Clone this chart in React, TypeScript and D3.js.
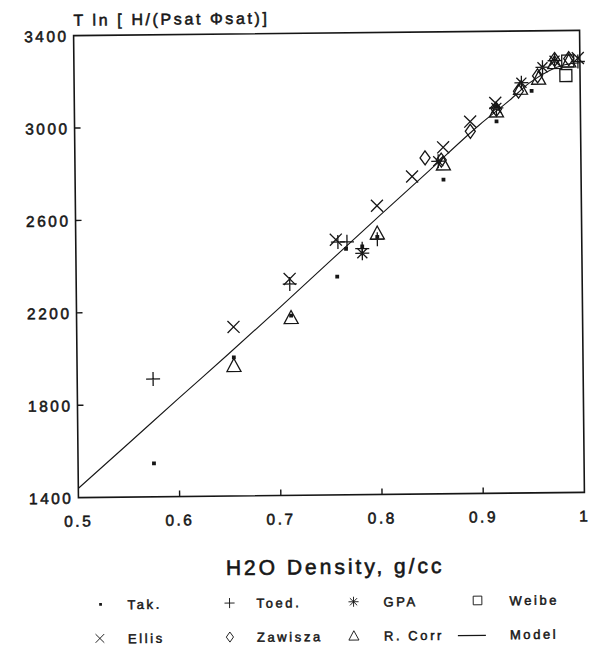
import React from 'react';
import * as d3 from 'd3';

const W = 604;
const H = 655;

// axis ticks
const xTicks = [0.5, 0.6, 0.7, 0.8, 0.9, 1.0];
const xTickLabels = ['0.5', '0.6', '0.7', '0.8', '0.9', '1'];
const yTicks = [1400, 1800, 2200, 2600, 3000, 3400];
const yTickLabels = ['1400', '1800', '2200', '2600', '3000', '3400'];

// series (density g/cc, T ln[H/(Psat Phisat)])
const tak: [number, number][] = [
  [0.575, 1545], [0.655, 2000], [0.712, 2178], [0.758, 2345], [0.767, 2465],
  [0.783, 2475], [0.798, 2515], [0.864, 2760], [0.917, 3010], [0.952, 3140],
];
const toed: [number, number][] = [
  [0.575, 1910], [0.711, 2315], [0.759, 2495], [0.768, 2495], [0.783, 2465],
  [0.798, 2505], [0.998, 3265],
];
const ellis: [number, number][] = [
  [0.655, 2132], [0.711, 2337], [0.757, 2505], [0.798, 2650], [0.833, 2775],
  [0.864, 2900], [0.891, 3010], [0.916, 3090], [0.998, 3280],
];
const gpa: [number, number][] = [
  [0.783, 2445], [0.859, 2840], [0.917, 3068], [0.942, 3176], [0.963, 3242], [0.975, 3270],
];
const zawisza: [number, number][] = [
  [0.846, 2855], [0.862, 2845], [0.891, 2968], [0.917, 3062], [0.939, 3140],
  [0.958, 3205], [0.975, 3275], [0.989, 3278],
];
const rcorr: [number, number][] = [
  [0.655, 1965], [0.712, 2170], [0.798, 2532], [0.864, 2828], [0.917, 3055],
  [0.941, 3152], [0.959, 3195], [0.975, 3262], [0.989, 3268],
];
const weibe: [number, number][] = [[0.986, 3205], [0.988, 3268]];
const model: [number, number][] = [
  [0.5, 1440], [0.55, 1632], [0.6, 1825], [0.65, 2016], [0.7, 2210], [0.75, 2408],
  [0.8, 2605], [0.85, 2800], [0.9, 2995], [0.93, 3100], [0.95, 3175], [0.97, 3228],
  [0.985, 3252], [1.0, 3260],
];

const INK = '#161616';
const FONT = '"Liberation Sans", Arial, Helvetica, sans-serif';

type Kind = 'tak' | 'toed' | 'ellis' | 'gpa' | 'zawisza' | 'rcorr' | 'weibe';

function Marker({ kind, x, y, s = 1 }: { kind: Kind; x: number; y: number; s?: number }) {
  const common = { fill: 'none', stroke: INK, strokeWidth: 1.3 };
  const t = `translate(${x},${y}) scale(${s})`;
  switch (kind) {
    case 'tak':
      return <rect x={x - 1.9 * s} y={y - 1.9 * s} width={3.8 * s} height={3.8 * s} fill={INK} />;
    case 'toed':
      return <path transform={t} d="M-7,0H7M0,-7V7" {...common} />;
    case 'ellis':
      return <path transform={t} d="M-6,-6L6,6M-6,6L6,-6" {...common} />;
    case 'gpa':
      return <path transform={t} d="M-7,0H7M0,-7V7M-5,-5L5,5M-5,5L5,-5" {...common} />;
    case 'zawisza':
      return <path transform={t} d="M0,-7L5,0L0,7L-5,0Z" {...common} />;
    case 'rcorr':
      return <path transform={t} d="M0,-7L7,6H-7Z" {...common} />;
    case 'weibe':
      return <rect transform={t} x={-6} y={-6} width={12} height={12} {...common} />;
  }
  return null;
}

export default function App() {
  const left = 76, right = 582, top = 33, bottom = 495;
  const x = d3.scaleLinear().domain([0.5, 1.0]).range([left, right]);
  const y = d3.scaleLinear().domain([1400, 3400]).range([bottom, top]);
  const line = d3.line<[number, number]>().x(d => x(d[0])).y(d => y(d[1])).curve(d3.curveMonotoneX);

  const series: { kind: Kind; data: [number, number][] }[] = [
    { kind: 'weibe', data: weibe },
    { kind: 'zawisza', data: zawisza },
    { kind: 'rcorr', data: rcorr },
    { kind: 'ellis', data: ellis },
    { kind: 'toed', data: toed },
    { kind: 'gpa', data: gpa },
    { kind: 'tak', data: tak },
  ];

  const legendRows: { kind: Kind | 'model'; label: string; sx: number; tx: number; yy: number }[] = [
    { kind: 'tak', label: 'Tak.', sx: 97, tx: 124, yy: 606 },
    { kind: 'toed', label: 'Toed.', sx: 226, tx: 253, yy: 606 },
    { kind: 'gpa', label: 'GPA', sx: 350, tx: 380, yy: 606 },
    { kind: 'weibe', label: 'Weibe', sx: 474, tx: 506, yy: 606 },
    { kind: 'ellis', label: 'Ellis', sx: 96, tx: 124, yy: 640 },
    { kind: 'zawisza', label: 'Zawisza', sx: 226, tx: 253, yy: 640 },
    { kind: 'rcorr', label: 'R. Corr', sx: 350, tx: 380, yy: 640 },
    { kind: 'model', label: 'Model', sx: 468, tx: 506, yy: 640 },
  ];

  const textInk = { fill: INK, stroke: INK, strokeWidth: 0.55 };

  return (
    <svg width={W} height={H} style={{ position: 'absolute', left: 0, top: 0, background: '#fff' }}>
      <rect width={W} height={H} fill="#fff" />
      <g transform="rotate(-0.6 329 264)" fontFamily={FONT}>
        {/* axis title (y) */}
        <text x={76} y={23} fontSize={16} letterSpacing={2.6} {...textInk}>T ln [ H/(Psat Φsat)]</text>
        {/* frame */}
        <rect x={left} y={top} width={right - left} height={bottom - top} fill="none" stroke={INK} strokeWidth={1.6} />
        {/* ticks */}
        {xTicks.slice(1, -1).map(v => (
          <line key={'xt' + v} x1={x(v)} x2={x(v)} y1={bottom} y2={bottom - 6} stroke={INK} strokeWidth={1.4} />
        ))}
        {yTicks.slice(1, -1).map(v => (
          <line key={'yt' + v} x1={left} x2={left + 6} y1={y(v)} y2={y(v)} stroke={INK} strokeWidth={1.4} />
        ))}
        {xTicks.map((v, i) => (
          <text key={'xl' + v} x={x(v)} y={bottom + 29} fontSize={15.5} letterSpacing={2.5} textAnchor="middle" {...textInk}>{xTickLabels[i]}</text>
        ))}
        {yTicks.map((v, i) => (
          <text key={'yl' + v} x={left - 5} y={y(v) + 6} fontSize={15.5} letterSpacing={2.5} textAnchor="end" {...textInk}>{yTickLabels[i]}</text>
        ))}
        {/* x title */}
        <text x={332} y={574} fontSize={21} letterSpacing={3} textAnchor="middle" {...textInk} strokeWidth={0.6}>H2O Density, g/cc</text>
        {/* model */}
        <path d={line(model) || ''} fill="none" stroke={INK} strokeWidth={1.1} />
        {/* points */}
        {series.map(s => s.data.map((d, i) => (
          <Marker key={s.kind + i} kind={s.kind} x={x(d[0])} y={y(d[1])} />
        )))}
        {/* legend */}
        {legendRows.map(r => (
          <g key={r.label}>
            {r.kind === 'model'
              ? <line x1={r.sx - 14} x2={r.sx + 14} y1={r.yy - 3} y2={r.yy - 3} stroke={INK} strokeWidth={1.1} />
              : <Marker kind={r.kind as Kind} x={r.sx} y={r.yy - 4} s={0.72} />}
            <text x={r.tx} y={r.yy + 1} fontSize={13} letterSpacing={2.6} {...textInk} strokeWidth={0.5}>{r.label}</text>
          </g>
        ))}
      </g>
    </svg>
  );
}
